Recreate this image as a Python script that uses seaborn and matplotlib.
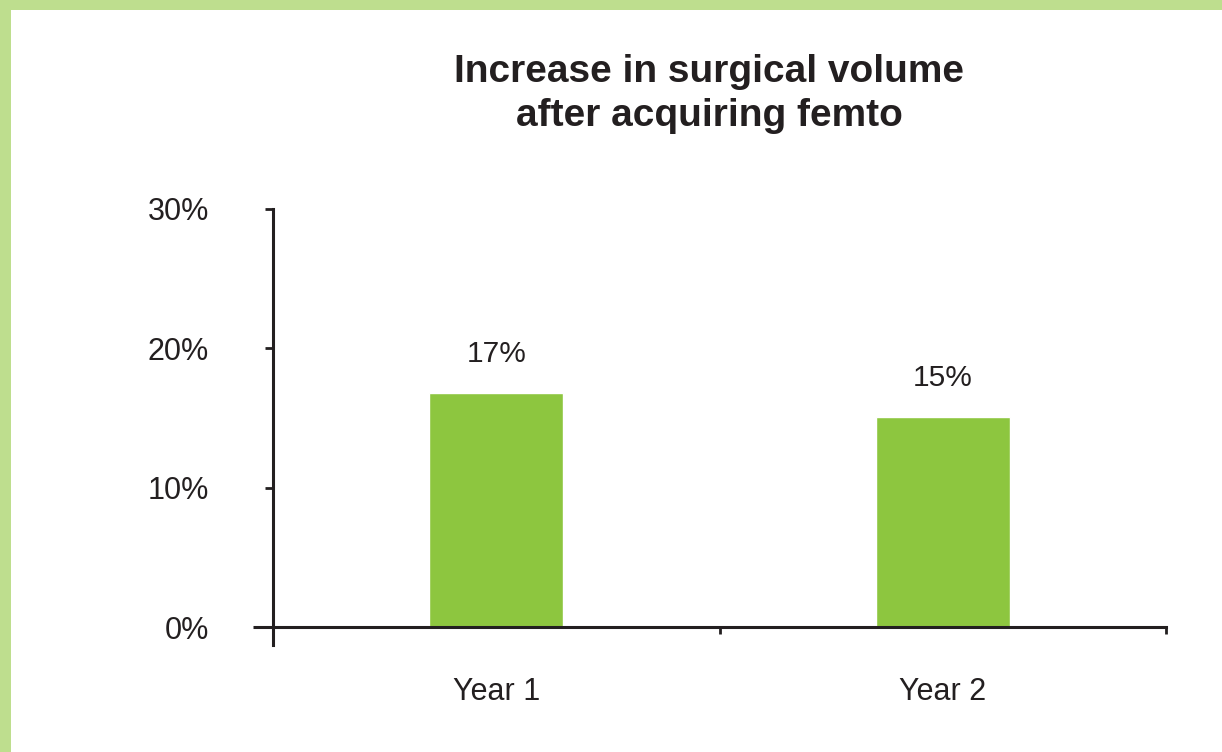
import matplotlib
matplotlib.use("Agg")
import matplotlib.pyplot as plt
import seaborn as sns
import pandas as pd
from matplotlib.patches import Rectangle
from matplotlib.ticker import FixedLocator

# Data
years = ["Year 1", "Year 2"]
increase = [16.8, 15.1]
labels = ["17%", "15%"]
y_ticks = [0, 10, 20, 30]

df = pd.DataFrame({"Year": years, "Increase": increase})

sns.set_style("white")
plt.rcParams['font.family'] = ['Liberation Sans', 'DejaVu Sans']
ink = "#231F20"

fig = plt.figure(figsize=(12.22, 7.52), dpi=100)
fig.patch.set_facecolor("#BEDE8E")
fig.patches.append(Rectangle((11 / 1222, 0), 1, (752 - 10) / 752, transform=fig.transFigure,
                             facecolor="white", edgecolor="none", zorder=-10))

ax = fig.add_axes([0.2234, 0.1662, 0.7308, 0.5559])
ax.set_facecolor("none")
sns.barplot(data=df, x="Year", y="Increase", color="#8DC63F", width=0.3,
            saturation=1, ax=ax)
ax.set_xlim(-0.5, len(years) - 0.5)
ax.set_ylim(0, 30)

ax.bar_label(ax.containers[0], labels=labels, padding=18, fontsize=21.5, color=ink)

# axes styling, Excel-like crossing axes
for s in ["top", "right"]:
    ax.spines[s].set_visible(False)
for s in ["left", "bottom"]:
    ax.spines[s].set_color(ink)
    ax.spines[s].set_linewidth(2.2)
ax.spines["left"].set_bounds(-1.3, 30)

ax.set_yticks(y_ticks)
ax.set_yticklabels([f"{t}%" for t in y_ticks])
ax.yaxis.remove_overlapping_locs = False
ax.yaxis.set_minor_locator(FixedLocator([0]))
ax.tick_params(axis="y", which="major", direction="out", length=6, width=2,
               color=ink, labelsize=22, labelcolor=ink, pad=40, left=True)
ax.tick_params(axis="y", which="minor", direction="out", length=14.5, width=2.2,
               color=ink, left=True)

ax.xaxis.set_minor_locator(FixedLocator([-0.5, 0.5, 1.5]))
ax.tick_params(axis="x", which="major", length=0, labelsize=22, labelcolor=ink, pad=36)
ax.tick_params(axis="x", which="minor", direction="out", length=5, width=2,
               color=ink, bottom=True)
ax.set_xlabel("")
ax.set_ylabel("")

fig.text(709 / 1222, 1 - 94 / 752, "Increase in surgical volume\nafter acquiring femto",
         ha="center", va="center", fontsize=28, fontweight="bold", color=ink,
         linespacing=1.32)

fig.savefig("out.png", dpi=100, facecolor=fig.get_facecolor())
